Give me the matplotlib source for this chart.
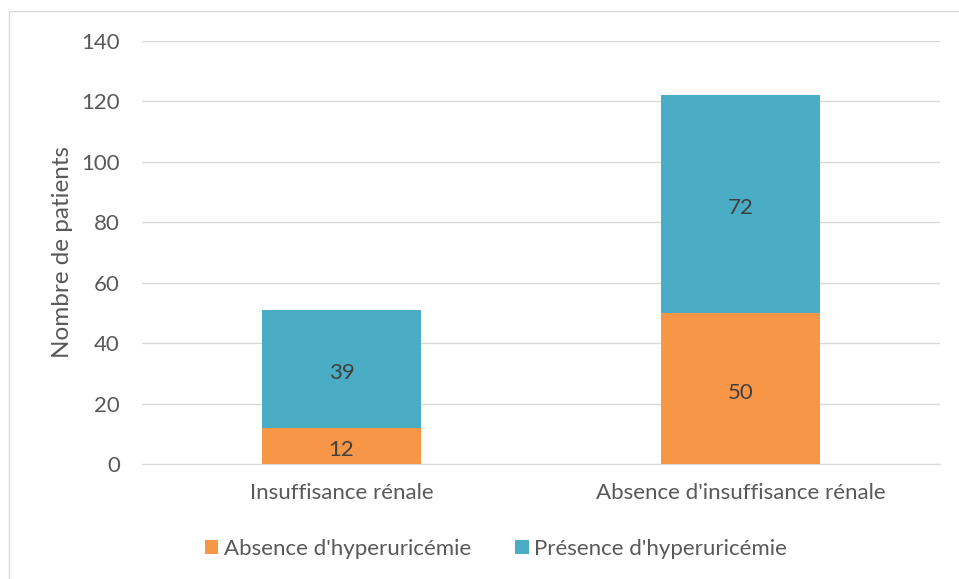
import matplotlib
matplotlib.use("Agg")
import matplotlib.pyplot as plt
from matplotlib.patches import Rectangle, Patch
import numpy as np

categories = ["Insuffisance rénale", "Absence d'insuffisance rénale"]
absence_hyper = [12, 50]
presence_hyper = [39, 72]
series_names = ["Absence d'hyperuricémie", "Présence d'hyperuricémie"]
yticks = [0, 20, 40, 60, 80, 100, 120, 140]

plt.rcParams["font.family"] = ["Lato", "DejaVu Sans"]
text_color = "#595959"
orange = "#F79646"
blue = "#4BACC6"

W, H = 959, 579
fig = plt.figure(figsize=(W / 100, H / 100), dpi=100)
fig.patch.set_facecolor("white")

# chart-area frame
fig.add_artist(Rectangle((9 / W, -0.05), 1.2, (H - 11) / H + 0.05,
                         transform=fig.transFigure, fill=False,
                         edgecolor="#D9D9D9", linewidth=1))

ax = fig.add_axes([142 / W, 115 / H, (940 - 142) / W, (464 - 41) / H])
x = np.arange(len(categories))
width = 0.4
b1 = ax.bar(x, absence_hyper, width, color=orange, zorder=3)
b2 = ax.bar(x, presence_hyper, width, bottom=absence_hyper, color=blue, zorder=3)

for bars, vals, bottoms in ((b1, absence_hyper, [0, 0]), (b2, presence_hyper, absence_hyper)):
    for rect, v, b in zip(bars, vals, bottoms):
        ax.annotate(str(v), (rect.get_x() + rect.get_width() / 2, b + v / 2),
                    xytext=(0, -3), textcoords="offset points",
                    ha="center", va="center", fontsize=16, color="#404040", zorder=4)

ax.set_xlim(-0.5, 1.5)
ax.set_ylim(0, 140)
ax.set_yticks(yticks)
ax.set_xticks(x)
ax.set_xticklabels(categories)
ax.tick_params(axis="both", length=0, labelsize=16, colors=text_color)
ax.tick_params(axis="y", pad=16)
ax.tick_params(axis="x", pad=14)
ax.grid(axis="y", color="#D9D9D9", linewidth=1, zorder=0)
for s in ("top", "right", "left"):
    ax.spines[s].set_visible(False)
ax.spines["bottom"].set_color("#D9D9D9")
ax.set_ylabel("Nombre de patients", fontsize=17.5, color=text_color, labelpad=6)

handles = [Patch(facecolor=orange), Patch(facecolor=blue)]
fig.legend(handles, series_names, loc="center", bbox_to_anchor=(496 / W, 1 - 549 / H),
           ncol=2, frameon=False, fontsize=16, labelcolor=text_color,
           handlelength=0.6, handleheight=0.6, handletextpad=0.25, columnspacing=2.0)

fig.savefig("out.png", dpi=100)
